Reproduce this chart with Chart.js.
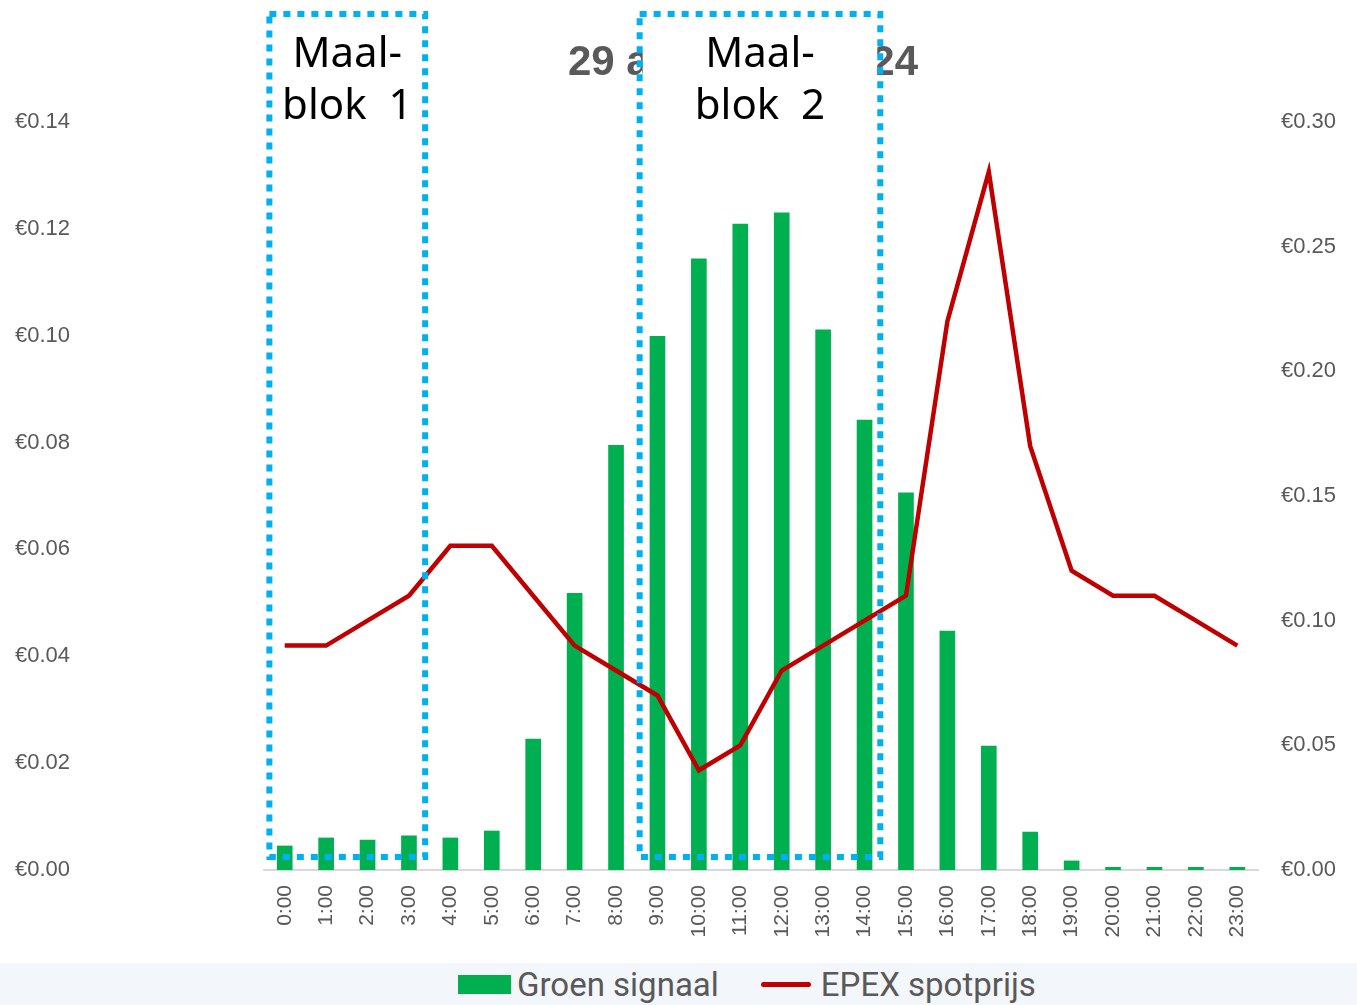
<!DOCTYPE html>
<html>
<head>
<meta charset="utf-8">
<script src="https://cdn.jsdelivr.net/npm/chart.js@4/dist/chart.umd.min.js"></script>
<style>
  body { margin: 0; background: #fff; }
  #wrap { position: relative; width: 1357px; height: 1005px; }
  #legend {
    position: absolute; left: 0; top: 963px; width: 1357px; height: 42px;
    background: #F3F6FA; display: flex; align-items: center;
    padding-left: 458px; box-sizing: border-box;
    font-family: Roboto, sans-serif; font-size: 33px; color: #595959;
  }
  .sw-bar { width: 53px; height: 19px; background: #00B050; margin-right: 6px; }
  .sw-line { width: 50px; height: 5px; border-radius: 3px; background: #C00000; margin-left: 42px; margin-right: 10px; }
</style>
</head>
<body>
<div id="wrap">
  <canvas id="my-chart" width="1357" height="963"></canvas>
  <div id="legend">
    <span class="sw-bar"></span><span>Groen signaal</span>
    <span class="sw-line"></span><span>EPEX spotprijs</span>
  </div>
</div>
<script>
const hours = ['0:00','1:00','2:00','3:00','4:00','5:00','6:00','7:00','8:00','9:00','10:00','11:00',
  '12:00','13:00','14:00','15:00','16:00','17:00','18:00','19:00','20:00','21:00','22:00','23:00'];
const groenSignaal = [0.0045, 0.006, 0.0056, 0.0064, 0.006, 0.0073, 0.0245, 0.0518, 0.0795, 0.0999,
  0.1144, 0.1209, 0.123, 0.1011, 0.0842, 0.0706, 0.0447, 0.0232, 0.0071, 0.0017,
  0.0005, 0.0005, 0.0005, 0.0005];
const epexPrijs = [0.09, 0.09, 0.10, 0.11, 0.13, 0.13, 0.11, 0.09, 0.08, 0.07, 0.04, 0.05,
  0.08, 0.09, 0.10, 0.11, 0.22, 0.28, 0.17, 0.12, 0.11, 0.11, 0.10, 0.09];
const titleText = '29 augustus 2024';
const maalBlokken = [
  { label: ['Maal-', 'blok  1'], from: -0.37, to: 3.39 },
  { label: ['Maal-', 'blok  2'], from: 8.57, to: 14.38 }
];

const euro = v => '€' + Number(v).toFixed(2);
const tickFont = { family: '"Liberation Sans", Arial, sans-serif', size: 22 };

const overlay = {
  id: 'overlay',
  afterDraw(chart) {
    const ctx = chart.ctx;
    const x = chart.scales.x;
    ctx.save();
    // title
    ctx.font = 'bold 42px "Liberation Sans", Arial, sans-serif';
    ctx.fillStyle = '#595959';
    ctx.textAlign = 'center';
    ctx.textBaseline = 'alphabetic';
    ctx.fillText(titleText, 743, 75);

    maalBlokken.forEach(b => {
      const left = x.getPixelForValue(b.from);
      const right = x.getPixelForValue(b.to);
      const top = 14, bottom = 857;
      // text box with white fill
      ctx.fillStyle = '#ffffff';
      ctx.fillRect(left + 3, top + 3, right - left - 6, 125);
      ctx.strokeStyle = '#00B0F0';
      ctx.lineWidth = 6;
      ctx.setLineDash([7, 7]);
      ctx.strokeRect(left, top, right - left, bottom - top);
      ctx.setLineDash([]);
      ctx.fillStyle = '#000000';
      ctx.font = '42px "Noto Sans", sans-serif';
      ctx.textAlign = 'center';
      const cx = (left + right) / 2;
      ctx.fillText(b.label[0], cx, 67);
      ctx.fillText(b.label[1], cx, 119);
    });
    ctx.restore();
  }
};

new Chart(document.getElementById('my-chart').getContext('2d'), {
  data: {
    labels: hours,
    datasets: [
      {
        type: 'line',
        label: 'EPEX spotprijs',
        data: epexPrijs,
        yAxisID: 'y1',
        borderColor: '#C00000',
        borderWidth: 4.5,
        pointRadius: 0,
        tension: 0,
        order: 0
      },
      {
        type: 'bar',
        label: 'Groen signaal',
        data: groenSignaal,
        yAxisID: 'y',
        backgroundColor: '#00B050',
        barThickness: 15,
        order: 1
      }
    ]
  },
  options: {
    responsive: false,
    animation: false,
    devicePixelRatio: 1,
    layout: { padding: { top: 122, left: 15, right: 0, bottom: 0 } },
    plugins: {
      legend: { display: false },
      tooltip: { enabled: false }
    },
    scales: {
      x: {
        grid: { display: false, drawTicks: false },
        border: { display: true, color: '#D9D9D9', width: 2 },
        ticks: {
          color: '#595959', font: { family: tickFont.family, size: 21 },
          minRotation: 90, maxRotation: 90, autoSkip: false, padding: 15
        },
        afterFit(s) { s.height = 93; }
      },
      y: {
        position: 'left',
        min: 0, max: 0.14,
        grid: { display: false, drawTicks: false },
        border: { display: false },
        ticks: {
          stepSize: 0.02, color: '#595959', font: tickFont,
          crossAlign: 'far', callback: euro
        },
        afterFit(s) { s.width = 249; }
      },
      y1: {
        position: 'right',
        min: 0, max: 0.30,
        grid: { display: false, drawTicks: false },
        border: { display: false },
        ticks: {
          stepSize: 0.05, color: '#595959', font: tickFont,
          crossAlign: 'near', padding: 23, callback: euro
        },
        afterFit(s) { s.width = 99; }
      }
    }
  },
  plugins: [overlay]
});
</script>
</body>
</html>
